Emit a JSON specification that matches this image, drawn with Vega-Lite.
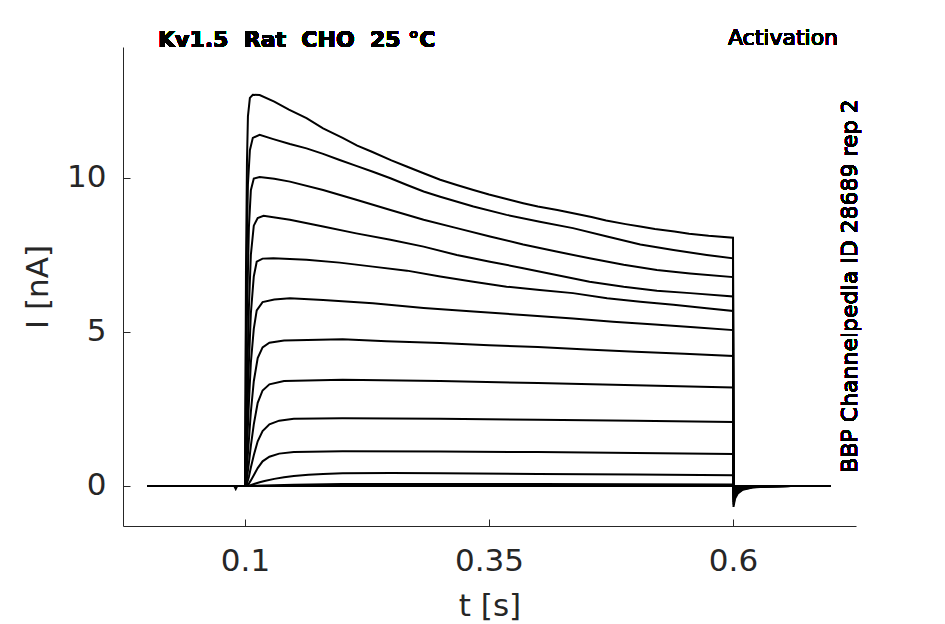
{
  "$schema": "https://vega.github.io/schema/vega-lite/v6.json",
  "width": 733,
  "height": 479,
  "autosize": {"type": "none"},
  "padding": {"left": 123, "top": 47, "right": 89, "bottom": 98},
  "background": "white",
  "data": {
    "values": [
      {"s": 1, "t": 0, "i": 0}, {"s": 1, "t": 0.089, "i": 0}, {"s": 1, "t": 0.0905, "i": -0.1}, {"s": 1, "t": 0.092, "i": 0}, {"s": 1, "t": 0.1, "i": 0},
      {"s": 1, "t": 0.1005, "i": 3}, {"s": 1, "t": 0.101, "i": 7}, {"s": 1, "t": 0.102, "i": 10.5}, {"s": 1, "t": 0.103, "i": 12}, {"s": 1, "t": 0.105, "i": 12.6},
      {"s": 1, "t": 0.108, "i": 12.7}, {"s": 1, "t": 0.115, "i": 12.69}, {"s": 1, "t": 0.13, "i": 12.48}, {"s": 1, "t": 0.145, "i": 12.22}, {"s": 1, "t": 0.163, "i": 11.94},
      {"s": 1, "t": 0.18, "i": 11.61}, {"s": 1, "t": 0.2, "i": 11.3}, {"s": 1, "t": 0.215, "i": 11.05}, {"s": 1, "t": 0.23, "i": 10.85}, {"s": 1, "t": 0.25, "i": 10.57},
      {"s": 1, "t": 0.265, "i": 10.38}, {"s": 1, "t": 0.283, "i": 10.15}, {"s": 1, "t": 0.3, "i": 9.94}, {"s": 1, "t": 0.317, "i": 9.77}, {"s": 1, "t": 0.334, "i": 9.61},
      {"s": 1, "t": 0.35, "i": 9.46}, {"s": 1, "t": 0.37, "i": 9.3}, {"s": 1, "t": 0.385, "i": 9.18}, {"s": 1, "t": 0.4, "i": 9.07}, {"s": 1, "t": 0.42, "i": 8.96},
      {"s": 1, "t": 0.435, "i": 8.86}, {"s": 1, "t": 0.455, "i": 8.73}, {"s": 1, "t": 0.47, "i": 8.62}, {"s": 1, "t": 0.49, "i": 8.5}, {"s": 1, "t": 0.505, "i": 8.42},
      {"s": 1, "t": 0.52, "i": 8.34}, {"s": 1, "t": 0.54, "i": 8.26}, {"s": 1, "t": 0.555, "i": 8.19}, {"s": 1, "t": 0.575, "i": 8.12}, {"s": 1, "t": 0.6, "i": 8.06},
      {"s": 1, "t": 0.6005, "i": -0.68}, {"s": 1, "t": 0.602, "i": -0.42}, {"s": 1, "t": 0.605, "i": -0.24}, {"s": 1, "t": 0.61, "i": -0.12},
      {"s": 1, "t": 0.62, "i": -0.05}, {"s": 1, "t": 0.635, "i": -0.015}, {"s": 1, "t": 0.66, "i": 0}, {"s": 1, "t": 0.7, "i": 0},

      {"s": 2, "t": 0, "i": 0}, {"s": 2, "t": 0.1, "i": 0},
      {"s": 2, "t": 0.1005, "i": 2}, {"s": 2, "t": 0.101, "i": 5}, {"s": 2, "t": 0.102, "i": 8}, {"s": 2, "t": 0.103, "i": 9.8}, {"s": 2, "t": 0.105, "i": 10.9},
      {"s": 2, "t": 0.108, "i": 11.3}, {"s": 2, "t": 0.115, "i": 11.4}, {"s": 2, "t": 0.129, "i": 11.26}, {"s": 2, "t": 0.146, "i": 11.1}, {"s": 2, "t": 0.163, "i": 10.96},
      {"s": 2, "t": 0.18, "i": 10.78}, {"s": 2, "t": 0.197, "i": 10.58}, {"s": 2, "t": 0.214, "i": 10.39}, {"s": 2, "t": 0.231, "i": 10.2}, {"s": 2, "t": 0.249, "i": 9.99},
      {"s": 2, "t": 0.266, "i": 9.77}, {"s": 2, "t": 0.283, "i": 9.56}, {"s": 2, "t": 0.3, "i": 9.39}, {"s": 2, "t": 0.334, "i": 9.07}, {"s": 2, "t": 0.368, "i": 8.8},
      {"s": 2, "t": 0.402, "i": 8.58}, {"s": 2, "t": 0.436, "i": 8.37}, {"s": 2, "t": 0.471, "i": 8.1}, {"s": 2, "t": 0.505, "i": 7.84}, {"s": 2, "t": 0.539, "i": 7.66},
      {"s": 2, "t": 0.573, "i": 7.5}, {"s": 2, "t": 0.6, "i": 7.39},
      {"s": 2, "t": 0.6005, "i": -0.6}, {"s": 2, "t": 0.602, "i": -0.36}, {"s": 2, "t": 0.605, "i": -0.21}, {"s": 2, "t": 0.61, "i": -0.11}, {"s": 2, "t": 0.62, "i": -0.04},
      {"s": 2, "t": 0.635, "i": -0.01}, {"s": 2, "t": 0.66, "i": 0}, {"s": 2, "t": 0.7, "i": 0},

      {"s": 3, "t": 0, "i": 0}, {"s": 3, "t": 0.1, "i": 0},
      {"s": 3, "t": 0.1005, "i": 1.2}, {"s": 3, "t": 0.101, "i": 3}, {"s": 3, "t": 0.102, "i": 5.5}, {"s": 3, "t": 0.104, "i": 8.4}, {"s": 3, "t": 0.106, "i": 9.6},
      {"s": 3, "t": 0.109, "i": 9.98}, {"s": 3, "t": 0.115, "i": 10.03}, {"s": 3, "t": 0.13, "i": 9.97}, {"s": 3, "t": 0.146, "i": 9.88}, {"s": 3, "t": 0.18, "i": 9.61},
      {"s": 3, "t": 0.214, "i": 9.29}, {"s": 3, "t": 0.249, "i": 8.96}, {"s": 3, "t": 0.283, "i": 8.64}, {"s": 3, "t": 0.317, "i": 8.37}, {"s": 3, "t": 0.351, "i": 8.1},
      {"s": 3, "t": 0.385, "i": 7.84}, {"s": 3, "t": 0.419, "i": 7.61}, {"s": 3, "t": 0.453, "i": 7.39}, {"s": 3, "t": 0.488, "i": 7.18}, {"s": 3, "t": 0.522, "i": 7.01},
      {"s": 3, "t": 0.556, "i": 6.9}, {"s": 3, "t": 0.6, "i": 6.78},
      {"s": 3, "t": 0.6005, "i": -0.52}, {"s": 3, "t": 0.602, "i": -0.31}, {"s": 3, "t": 0.605, "i": -0.18}, {"s": 3, "t": 0.61, "i": -0.09}, {"s": 3, "t": 0.62, "i": -0.035},
      {"s": 3, "t": 0.635, "i": -0.01}, {"s": 3, "t": 0.66, "i": 0}, {"s": 3, "t": 0.7, "i": 0},

      {"s": 4, "t": 0, "i": 0}, {"s": 4, "t": 0.1, "i": 0},
      {"s": 4, "t": 0.1005, "i": 0.6}, {"s": 4, "t": 0.101, "i": 1.6}, {"s": 4, "t": 0.102, "i": 3.2}, {"s": 4, "t": 0.104, "i": 5.8}, {"s": 4, "t": 0.106, "i": 7.5},
      {"s": 4, "t": 0.109, "i": 8.45}, {"s": 4, "t": 0.113, "i": 8.7}, {"s": 4, "t": 0.119, "i": 8.77}, {"s": 4, "t": 0.146, "i": 8.64}, {"s": 4, "t": 0.18, "i": 8.42},
      {"s": 4, "t": 0.214, "i": 8.2}, {"s": 4, "t": 0.249, "i": 7.99}, {"s": 4, "t": 0.283, "i": 7.77}, {"s": 4, "t": 0.317, "i": 7.5}, {"s": 4, "t": 0.351, "i": 7.28},
      {"s": 4, "t": 0.385, "i": 7.07}, {"s": 4, "t": 0.419, "i": 6.85}, {"s": 4, "t": 0.453, "i": 6.63}, {"s": 4, "t": 0.488, "i": 6.47}, {"s": 4, "t": 0.522, "i": 6.34},
      {"s": 4, "t": 0.556, "i": 6.26}, {"s": 4, "t": 0.6, "i": 6.15},
      {"s": 4, "t": 0.6005, "i": -0.45}, {"s": 4, "t": 0.602, "i": -0.27}, {"s": 4, "t": 0.605, "i": -0.16}, {"s": 4, "t": 0.61, "i": -0.08}, {"s": 4, "t": 0.62, "i": -0.03},
      {"s": 4, "t": 0.66, "i": 0}, {"s": 4, "t": 0.7, "i": 0},

      {"s": 5, "t": 0, "i": 0}, {"s": 5, "t": 0.1, "i": 0},
      {"s": 5, "t": 0.101, "i": 0.9}, {"s": 5, "t": 0.102, "i": 2.0}, {"s": 5, "t": 0.104, "i": 4.0}, {"s": 5, "t": 0.106, "i": 5.6}, {"s": 5, "t": 0.109, "i": 6.8},
      {"s": 5, "t": 0.112, "i": 7.28}, {"s": 5, "t": 0.118, "i": 7.38}, {"s": 5, "t": 0.129, "i": 7.39}, {"s": 5, "t": 0.163, "i": 7.34}, {"s": 5, "t": 0.197, "i": 7.25},
      {"s": 5, "t": 0.231, "i": 7.12}, {"s": 5, "t": 0.266, "i": 6.99}, {"s": 5, "t": 0.3, "i": 6.8}, {"s": 5, "t": 0.334, "i": 6.63}, {"s": 5, "t": 0.368, "i": 6.47},
      {"s": 5, "t": 0.402, "i": 6.36}, {"s": 5, "t": 0.436, "i": 6.26}, {"s": 5, "t": 0.471, "i": 6.09}, {"s": 5, "t": 0.505, "i": 5.98}, {"s": 5, "t": 0.539, "i": 5.88},
      {"s": 5, "t": 0.573, "i": 5.77}, {"s": 5, "t": 0.6, "i": 5.68},
      {"s": 5, "t": 0.6005, "i": -0.38}, {"s": 5, "t": 0.602, "i": -0.23}, {"s": 5, "t": 0.605, "i": -0.13}, {"s": 5, "t": 0.61, "i": -0.07}, {"s": 5, "t": 0.62, "i": -0.025},
      {"s": 5, "t": 0.66, "i": 0}, {"s": 5, "t": 0.7, "i": 0},

      {"s": 6, "t": 0, "i": 0}, {"s": 6, "t": 0.1, "i": 0},
      {"s": 6, "t": 0.101, "i": 0.5}, {"s": 6, "t": 0.102, "i": 1.2}, {"s": 6, "t": 0.104, "i": 2.7}, {"s": 6, "t": 0.106, "i": 4.0}, {"s": 6, "t": 0.109, "i": 5.1},
      {"s": 6, "t": 0.112, "i": 5.7}, {"s": 6, "t": 0.118, "i": 5.97}, {"s": 6, "t": 0.13, "i": 6.05}, {"s": 6, "t": 0.146, "i": 6.09}, {"s": 6, "t": 0.18, "i": 6.04},
      {"s": 6, "t": 0.231, "i": 5.93}, {"s": 6, "t": 0.283, "i": 5.78}, {"s": 6, "t": 0.334, "i": 5.66}, {"s": 6, "t": 0.385, "i": 5.55}, {"s": 6, "t": 0.436, "i": 5.44},
      {"s": 6, "t": 0.477, "i": 5.33}, {"s": 6, "t": 0.52, "i": 5.24}, {"s": 6, "t": 0.56, "i": 5.15}, {"s": 6, "t": 0.6, "i": 5.06},
      {"s": 6, "t": 0.6005, "i": -0.3}, {"s": 6, "t": 0.602, "i": -0.18}, {"s": 6, "t": 0.605, "i": -0.1}, {"s": 6, "t": 0.61, "i": -0.05}, {"s": 6, "t": 0.62, "i": -0.02},
      {"s": 6, "t": 0.66, "i": 0}, {"s": 6, "t": 0.7, "i": 0},

      {"s": 7, "t": 0, "i": 0}, {"s": 7, "t": 0.1, "i": 0},
      {"s": 7, "t": 0.101, "i": 0.25}, {"s": 7, "t": 0.102, "i": 0.6}, {"s": 7, "t": 0.104, "i": 1.5}, {"s": 7, "t": 0.106, "i": 2.4}, {"s": 7, "t": 0.109, "i": 3.4},
      {"s": 7, "t": 0.113, "i": 4.15}, {"s": 7, "t": 0.118, "i": 4.5}, {"s": 7, "t": 0.125, "i": 4.65}, {"s": 7, "t": 0.14, "i": 4.72}, {"s": 7, "t": 0.2, "i": 4.76},
      {"s": 7, "t": 0.245, "i": 4.7}, {"s": 7, "t": 0.3, "i": 4.64}, {"s": 7, "t": 0.35, "i": 4.57}, {"s": 7, "t": 0.4, "i": 4.51}, {"s": 7, "t": 0.45, "i": 4.43},
      {"s": 7, "t": 0.5, "i": 4.36}, {"s": 7, "t": 0.55, "i": 4.29}, {"s": 7, "t": 0.6, "i": 4.22},
      {"s": 7, "t": 0.6005, "i": -0.22}, {"s": 7, "t": 0.602, "i": -0.13}, {"s": 7, "t": 0.605, "i": -0.07}, {"s": 7, "t": 0.61, "i": -0.035}, {"s": 7, "t": 0.62, "i": -0.01},
      {"s": 7, "t": 0.66, "i": 0}, {"s": 7, "t": 0.7, "i": 0},

      {"s": 8, "t": 0, "i": 0}, {"s": 8, "t": 0.1, "i": 0},
      {"s": 8, "t": 0.101, "i": 0.08}, {"s": 8, "t": 0.102, "i": 0.25}, {"s": 8, "t": 0.104, "i": 0.75}, {"s": 8, "t": 0.106, "i": 1.3}, {"s": 8, "t": 0.109, "i": 2.0},
      {"s": 8, "t": 0.113, "i": 2.7}, {"s": 8, "t": 0.118, "i": 3.1}, {"s": 8, "t": 0.125, "i": 3.3}, {"s": 8, "t": 0.14, "i": 3.41}, {"s": 8, "t": 0.2, "i": 3.45},
      {"s": 8, "t": 0.3, "i": 3.41}, {"s": 8, "t": 0.4, "i": 3.34}, {"s": 8, "t": 0.5, "i": 3.27}, {"s": 8, "t": 0.6, "i": 3.2},
      {"s": 8, "t": 0.6005, "i": -0.15}, {"s": 8, "t": 0.602, "i": -0.09}, {"s": 8, "t": 0.605, "i": -0.05}, {"s": 8, "t": 0.61, "i": -0.02},
      {"s": 8, "t": 0.64, "i": 0}, {"s": 8, "t": 0.7, "i": 0},

      {"s": 9, "t": 0, "i": 0}, {"s": 9, "t": 0.1, "i": 0},
      {"s": 9, "t": 0.102, "i": 0.08}, {"s": 9, "t": 0.104, "i": 0.3}, {"s": 9, "t": 0.106, "i": 0.6}, {"s": 9, "t": 0.109, "i": 1.0}, {"s": 9, "t": 0.113, "i": 1.45},
      {"s": 9, "t": 0.118, "i": 1.78}, {"s": 9, "t": 0.125, "i": 2.0}, {"s": 9, "t": 0.135, "i": 2.12}, {"s": 9, "t": 0.15, "i": 2.18}, {"s": 9, "t": 0.2, "i": 2.2},
      {"s": 9, "t": 0.3, "i": 2.18}, {"s": 9, "t": 0.4, "i": 2.15}, {"s": 9, "t": 0.5, "i": 2.12}, {"s": 9, "t": 0.6, "i": 2.08},
      {"s": 9, "t": 0.6005, "i": -0.09}, {"s": 9, "t": 0.603, "i": -0.04}, {"s": 9, "t": 0.61, "i": -0.01}, {"s": 9, "t": 0.64, "i": 0}, {"s": 9, "t": 0.7, "i": 0},

      {"s": 10, "t": 0, "i": 0}, {"s": 10, "t": 0.1, "i": 0},
      {"s": 10, "t": 0.102, "i": 0.02}, {"s": 10, "t": 0.104, "i": 0.08}, {"s": 10, "t": 0.106, "i": 0.18}, {"s": 10, "t": 0.109, "i": 0.35}, {"s": 10, "t": 0.113, "i": 0.58},
      {"s": 10, "t": 0.118, "i": 0.8}, {"s": 10, "t": 0.125, "i": 0.95}, {"s": 10, "t": 0.135, "i": 1.05}, {"s": 10, "t": 0.15, "i": 1.1}, {"s": 10, "t": 0.2, "i": 1.13},
      {"s": 10, "t": 0.3, "i": 1.12}, {"s": 10, "t": 0.4, "i": 1.1}, {"s": 10, "t": 0.5, "i": 1.07}, {"s": 10, "t": 0.6, "i": 1.04},
      {"s": 10, "t": 0.6005, "i": -0.05}, {"s": 10, "t": 0.605, "i": -0.01}, {"s": 10, "t": 0.64, "i": 0}, {"s": 10, "t": 0.7, "i": 0},

      {"s": 11, "t": 0, "i": 0}, {"s": 11, "t": 0.1, "i": 0},
      {"s": 11, "t": 0.105, "i": 0.02}, {"s": 11, "t": 0.11, "i": 0.07}, {"s": 11, "t": 0.115, "i": 0.12}, {"s": 11, "t": 0.12, "i": 0.16}, {"s": 11, "t": 0.13, "i": 0.23},
      {"s": 11, "t": 0.14, "i": 0.28}, {"s": 11, "t": 0.15, "i": 0.32}, {"s": 11, "t": 0.165, "i": 0.36}, {"s": 11, "t": 0.18, "i": 0.39}, {"s": 11, "t": 0.2, "i": 0.41},
      {"s": 11, "t": 0.25, "i": 0.42}, {"s": 11, "t": 0.3, "i": 0.41}, {"s": 11, "t": 0.4, "i": 0.39}, {"s": 11, "t": 0.5, "i": 0.37}, {"s": 11, "t": 0.6, "i": 0.35},
      {"s": 11, "t": 0.6005, "i": -0.02}, {"s": 11, "t": 0.61, "i": 0}, {"s": 11, "t": 0.7, "i": 0},

      {"s": 12, "t": 0, "i": 0}, {"s": 12, "t": 0.1, "i": 0},
      {"s": 12, "t": 0.11, "i": 0.01}, {"s": 12, "t": 0.15, "i": 0.04}, {"s": 12, "t": 0.2, "i": 0.06}, {"s": 12, "t": 0.4, "i": 0.06}, {"s": 12, "t": 0.6, "i": 0.05},
      {"s": 12, "t": 0.6005, "i": 0}, {"s": 12, "t": 0.7, "i": 0},

      {"s": 13, "t": 0, "i": 0}, {"s": 13, "t": 0.7, "i": 0}
    ]
  },
  "layer": [
    {
      "mark": {"type": "line", "color": "black", "strokeWidth": 2},
      "encoding": {
        "x": {
          "field": "t",
          "type": "quantitative",
          "title": "t [s]",
          "scale": {"domain": [-0.025, 0.726], "nice": false, "zero": false},
          "axis": {"values": [0.1, 0.35, 0.6], "format": "~g"}
        },
        "y": {
          "field": "i",
          "type": "quantitative",
          "title": "I [nA]",
          "scale": {"domain": [-1.3, 14.25], "nice": false, "zero": false},
          "axis": {"values": [0, 5, 10], "format": "~g"}
        },
        "detail": {"field": "s", "type": "nominal"}
      }
    },
    {
      "mark": {"type": "text", "align": "left", "baseline": "middle", "fontSize": 22, "fontWeight": "bold", "font": "DejaVu Sans", "color": "black"},
      "encoding": {
        "x": {"datum": 0.0109},
        "y": {"datum": 14.48},
        "text": {"value": "Kv1.5\u00a0 Rat\u00a0 CHO\u00a0 25 °C"}
      }
    },
    {
      "mark": {"type": "text", "align": "right", "baseline": "middle", "fontSize": 22, "font": "DejaVu Sans", "color": "black"},
      "encoding": {
        "x": {"datum": 0.7076},
        "y": {"datum": 14.54},
        "text": {"value": "Activation"}
      }
    },
    {
      "mark": {"type": "text", "align": "center", "baseline": "middle", "angle": 270, "fontSize": 22, "font": "DejaVu Sans", "color": "black"},
      "encoding": {
        "x": {"datum": 0.7199},
        "y": {"datum": 6.49},
        "text": {"value": "BBP Channelpedia ID 28689 rep 2"}
      }
    }
  ],
  "config": {
    "view": {"stroke": null},
    "font": "DejaVu Sans",
    "axis": {
      "grid": false,
      "domainColor": "#262626",
      "tickColor": "#262626",
      "labelColor": "#262626",
      "titleColor": "#262626",
      "labelFont": "DejaVu Sans",
      "titleFont": "DejaVu Sans",
      "labelFontSize": 31,
      "titleFontSize": 31,
      "titleFontWeight": "normal",
      "tickSize": -7,
      "domainWidth": 1,
      "tickWidth": 1
    },
    "axisX": {"labelPadding": 27, "titlePadding": 15},
    "axisY": {"labelPadding": 24, "titlePadding": 12}
  }
}
